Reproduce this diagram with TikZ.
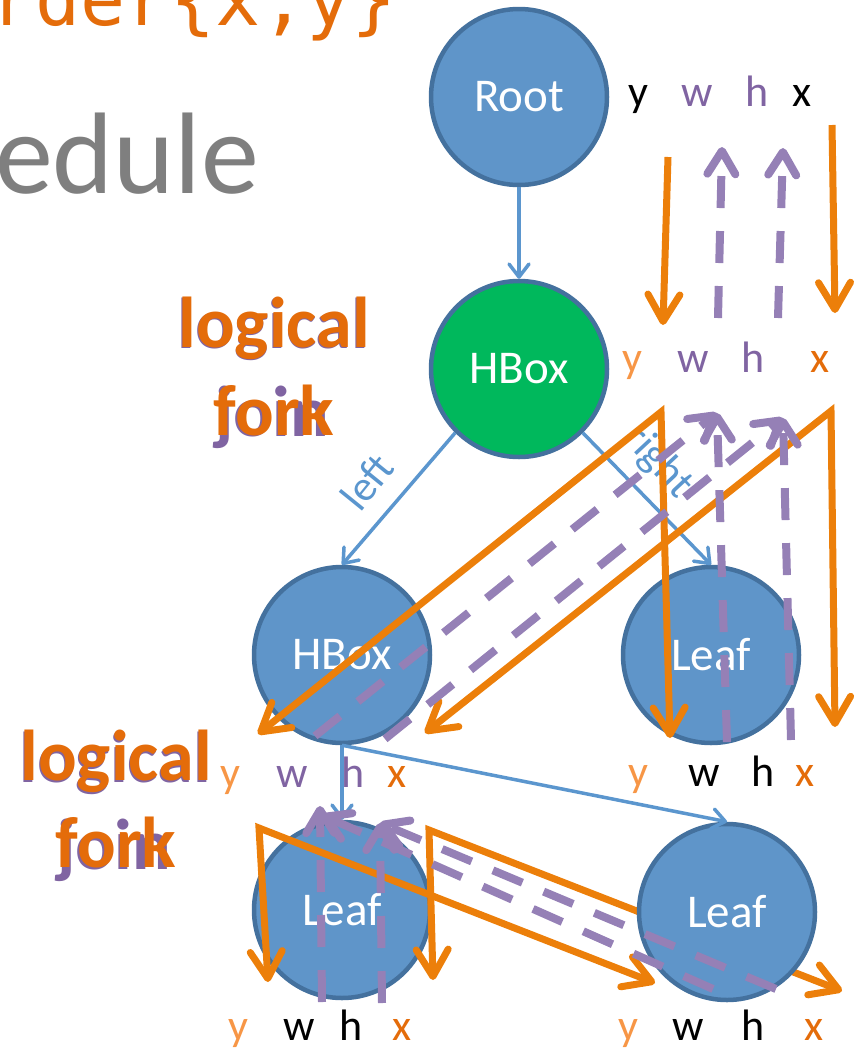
\documentclass[tikz,border=0pt]{standalone}
\usepackage{fontspec}
\setmainfont{Carlito}
\newfontfamily\codefont{DejaVu Sans Mono}
\usetikzlibrary{arrows.meta}

\definecolor{nodefill}{HTML}{5F95C9}
\definecolor{nodeline}{HTML}{44719E}
\definecolor{hboxgreen}{HTML}{00B85C}
\definecolor{edgeblue}{HTML}{5B96CE}
\definecolor{forkorange}{HTML}{EC7F0A}
\definecolor{textorange}{HTML}{E46C0A}
\definecolor{lightorange}{HTML}{F79646}
\definecolor{joinpurple}{HTML}{9580B6}
\definecolor{textpurple}{HTML}{8064A2}
\definecolor{slidegray}{HTML}{7F7F7F}

\tikzset{
  obar/.tip={Straight Barb[length=27pt,width=32pt,round]},
  pbar/.tip={Straight Barb[length=23pt,width=28pt,round]},
  bbar/.tip={Straight Barb[length=13pt,width=20pt,round]},
  treenode/.style={circle, draw=nodeline, line width=4.5pt, fill=nodefill,
    minimum size=176pt, inner sep=0pt, text=white,
    font=\fontsize{47}{56}\selectfont},
  greennode/.style={treenode, fill=hboxgreen},
  treeedge/.style={draw=edgeblue, line width=3.5pt, -bbar},
  edgelabel/.style={text=edgeblue, inner sep=0pt, font=\fontsize{43}{50}\selectfont},
  attr/.style={anchor=base, inner sep=0pt, font=\fontsize{44}{50}\selectfont},
  forkone/.style={draw=forkorange, line width=7pt, -obar},
  forktwo/.style={draw=forkorange, line width=7pt, line join=miter, obar-obar},
  joinline/.style={draw=joinpurple, line width=8pt, dash pattern=on 32pt off 23pt, -pbar},
  phase/.style={anchor=base, inner sep=0pt, font=\bfseries\fontsize{72}{88}\selectfont},
}

\begin{document}
\begin{tikzpicture}[x=1pt,y=-1pt]
\path[use as bounding box] (0,0) rectangle (858,1050);
\clip (0,0) rectangle (858,1050);

% slide text around the tree
\node[anchor=base west, inner sep=0pt, text=textorange,
  font=\codefont\fontsize{75}{90}\selectfont] (code) at (-10,25) {rder\{x,y\}};
\node[anchor=base west, inner sep=0pt, text=slidegray,
  font=\fontsize{116}{134}\selectfont] (title) at (-5,193) {edule};

% phase captions: "logical join" beneath "logical fork"
\node[phase, text=textpurple] (joinA1) at (273.5,348.5) {logical};
\node[phase, text=textpurple] (joinA2) at (272,436.5) {join};
\node[phase, text=textorange] (forkA1) at (274,347) {logical};
\node[phase, text=textorange] (forkA2) at (274,435) {fork};
\node[phase, text=textpurple] (joinB1) at (115,782) {logical};
\node[phase, text=textpurple] (joinB2) at (114,869) {join};
\node[phase, text=textorange] (forkB1) at (116,780) {logical};
\node[phase, text=textorange] (forkB2) at (116,867) {fork};

% tree nodes
\node[treenode] (root) at (519,97) {Root};
\node[greennode] (hb) at (519,369) {HBox};
\node[treenode] (hbl) at (342,655) {HBox};
\node[treenode] (leafr) at (711,655) {Leaf};
\node[treenode] (leafbl) at (342,910) {Leaf};

% tree edges
\draw[treeedge] (root.south) -- (hb.north);
\draw[treeedge] (hb.south west) -- (hbl.north);
\draw[treeedge] (hb.south east) -- (leafr.north);
\draw[treeedge] (hbl.south) -- (leafbl.north);
\node[edgelabel, rotate=51] (lblleft) at (367,482) {left};
\node[edgelabel, rotate=-47] (lblright) at (658,462) {right};

% attribute rows
\node[attr, text=black] (y0) at (638,106) {y};
\node[attr, text=textpurple] (w0) at (697,106) {w};
\node[attr, text=textpurple] (h0) at (757,106) {h};
\node[attr, text=black] (x0) at (802,106) {x};

\node[attr, text=lightorange] (y1) at (632,372) {y};
\node[attr, text=textpurple] (w1) at (693,372) {w};
\node[attr, text=textpurple] (h1) at (753,372) {h};
\node[attr, text=textorange] (x1) at (820,372) {x};

\node[attr, text=lightorange] (y2) at (230,787) {y};
\node[attr, text=textpurple] (w2) at (292,787) {w};
\node[attr, text=textpurple] (h2) at (353,787) {h};
\node[attr, text=textorange] (x2) at (397,787) {x};

\node[attr, text=lightorange] (y3) at (638,786) {y};
\node[attr, text=black] (w3) at (704,786) {w};
\node[attr, text=black] (h3) at (763,786) {h};
\node[attr, text=textorange] (x3) at (805,786) {x};

\node[attr, text=lightorange] (y4) at (238,1040) {y};
\node[attr, text=black] (w4) at (299,1040) {w};
\node[attr, text=black] (h4) at (351,1040) {h};
\node[attr, text=textorange] (x4) at (402,1040) {x};

\node[attr, text=lightorange] (y5) at (628,1040) {y};
\node[attr, text=black] (w5) at (688,1040) {w};
\node[attr, text=black] (h5) at (753,1040) {h};
\node[attr, text=textorange] (x5) at (814,1040) {x};

% end points of the data-flow arrows
\coordinate (oy0s) at (668,157);  \coordinate (oy0e) at (663,325);
\coordinate (ox0s) at (832,125);  \coordinate (ox0e) at (835,313);
\coordinate (pw0s) at (718,318);  \coordinate (pw0e) at (722,147);
\coordinate (ph0s) at (778,318);  \coordinate (ph0e) at (783,148);

\coordinate (oA1) at (258,734);  \coordinate (oAc) at (661,412);  \coordinate (oA2) at (670,738);
\coordinate (oB1) at (425,733);  \coordinate (oBc) at (831,411);  \coordinate (oB2) at (835,727);
\coordinate (pw1d) at (315,736); \coordinate (pw1v) at (727,742); \coordinate (pw1t) at (717,413);
\coordinate (ph1d) at (385,739); \coordinate (ph1v) at (791,740); \coordinate (ph1t) at (783,418);

\coordinate (oC1) at (268,982);  \coordinate (oCc) at (259,828);  \coordinate (oC2) at (655,983);
\coordinate (oD1) at (433,980);  \coordinate (oDc) at (429,830);  \coordinate (oD2) at (842,991);
\coordinate (pw2v) at (322,1002); \coordinate (pw2t) at (320,806);
\coordinate (pw2d) at (713,989);  \coordinate (pw2u) at (322,815);
\coordinate (ph2v) at (382,1003); \coordinate (ph2d) at (776,989); \coordinate (ph2t) at (380,823);

% this fork passes behind the last leaf
\draw[forktwo] (oD1) -- (oDc) -- (oD2);
\node[treenode] (leafbr) at (727,912) {Leaf};
\draw[treeedge] (hbl.south) -- (leafbr.north);

% forks (orange)
\draw[forkone] (oy0s) -- (oy0e);
\draw[forkone] (ox0s) -- (ox0e);
\draw[forktwo] (oA1) -- (oAc) -- (oA2);
\draw[forktwo] (oB1) -- (oBc) -- (oB2);
\draw[forktwo] (oC1) -- (oCc) -- (oC2);

% joins (purple, dashed)
\draw[joinline] (pw0s) -- (pw0e);
\draw[joinline] (ph0s) -- (ph0e);
\draw[joinline] (pw1d) -- (pw1t);
\draw[joinline] (pw1v) -- (pw1t);
\draw[joinline] (ph1d) -- (ph1t);
\draw[joinline] (ph1v) -- (ph1t);
\draw[joinline] (pw2v) -- (pw2t);
\draw[joinline] (pw2d) -- (pw2u);
\draw[joinline] (ph2v) -- (ph2t);
\draw[joinline] (ph2d) -- (ph2t);
\end{tikzpicture}
\end{document}
